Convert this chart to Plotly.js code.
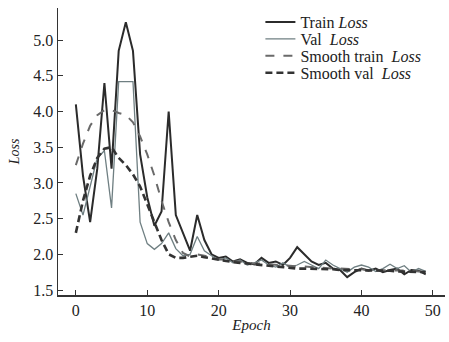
<!DOCTYPE html>
<html>
<head>
<meta charset="utf-8">
<script src="https://cdn.plot.ly/plotly-3.0.1.min.js"></script>
<style>html,body{margin:0;padding:0;background:#fff;}#chart{width:449px;height:342px;}</style>
</head>
<body>
<div id="chart"></div>
<script>
const epochs = Array.from({length: 50}, (_, i) => i);
const trainLoss = [4.1,3.1,2.45,3.2,4.4,3.2,4.85,5.25,4.85,3.4,2.8,2.4,2.6,4.0,2.55,2.3,2.05,2.55,2.2,2.0,
  1.95,1.97,1.9,1.93,1.88,1.86,1.95,1.88,1.9,1.85,1.95,2.1,2.0,1.9,1.85,1.88,1.8,1.78,1.68,1.75,
  1.8,1.77,1.8,1.75,1.78,1.8,1.72,1.78,1.77,1.72];
const valLoss = [2.85,2.55,2.95,3.35,3.45,2.65,4.42,4.42,4.42,2.45,2.15,2.07,2.15,2.3,2.08,1.98,2.0,2.25,2.05,1.98,
  1.92,1.95,1.88,1.92,1.85,1.88,1.92,1.85,1.82,1.88,1.82,1.85,1.9,1.85,1.8,1.92,1.85,1.8,1.75,1.82,
  1.85,1.82,1.76,1.8,1.86,1.8,1.84,1.75,1.8,1.76];
const smoothTrain = [3.25,3.55,3.8,3.95,4.02,4.02,3.98,3.95,3.85,3.65,3.4,3.1,2.75,2.45,2.2,2.02,1.97,2.0,1.98,1.95,
  1.93,1.92,1.9,1.9,1.88,1.87,1.87,1.86,1.85,1.85,1.84,1.83,1.83,1.82,1.82,1.81,1.8,1.8,1.8,1.79,
  1.79,1.78,1.78,1.78,1.78,1.77,1.77,1.77,1.76,1.76];
const smoothVal = [2.3,2.75,3.1,3.35,3.48,3.5,3.35,3.25,3.12,2.95,2.7,2.45,2.2,2.0,1.95,1.95,1.97,1.98,1.96,1.94,
  1.92,1.9,1.89,1.88,1.87,1.86,1.85,1.84,1.83,1.82,1.81,1.8,1.8,1.8,1.79,1.79,1.79,1.78,1.78,1.78,
  1.78,1.77,1.77,1.77,1.77,1.76,1.76,1.76,1.76,1.75];
const names = ['Train <i>Loss</i>', 'Val  <i>Loss</i>', 'Smooth train  <i>Loss</i>', 'Smooth val  <i>Loss</i>'];

const traces = [
  {x: epochs, y: trainLoss, name: names[0], mode: 'lines', legend: 'legend', line: {color: '#2b2b2b', width: 2}},
  {x: epochs, y: valLoss, name: names[1], mode: 'lines', legend: 'legend2', line: {color: '#6f7f82', width: 1.3}},
  {x: epochs, y: smoothTrain, name: names[2], mode: 'lines', legend: 'legend3', line: {color: '#6a6a6a', width: 2, dash: 'dash'}},
  {x: epochs, y: smoothVal, name: names[3], mode: 'lines', legend: 'legend4', line: {color: '#333333', width: 2.6, dash: '7px,4px'}}
];
const serif = 'Liberation Serif, Times New Roman, serif';
function leg(y) {
  return {x: 0.523, y: y, xanchor: 'left', yanchor: 'middle', bgcolor: 'rgba(0,0,0,0)',
    font: {family: serif, size: 16, color: '#222'}, itemwidth: 30};
}
const layout = {
  width: 449, height: 342,
  margin: {l: 58, r: 4, t: 8, b: 47},
  paper_bgcolor: '#fff', plot_bgcolor: '#fff',
  font: {family: serif, color: '#222', size: 15},
  showlegend: true,
  legend: leg(0.951), legend2: leg(0.892), legend3: leg(0.833), legend4: leg(0.774),
  xaxis: {range: [-2.5, 51.7], dtick: 10, tick0: 0, showgrid: false, zeroline: false,
    showline: true, linecolor: '#333', linewidth: 1.5, ticks: 'inside', ticklen: 5, tickcolor: '#333',
    tickfont: {family: serif, size: 16, color: '#222'},
    title: {text: '<i>Epoch</i>', font: {family: serif, size: 15, color: '#222'}, standoff: 2}},
  yaxis: {range: [1.43, 5.45], dtick: 0.5, tick0: 1.5, tickformat: '.1f', showgrid: false, zeroline: false,
    showline: true, linecolor: '#333', linewidth: 1.5, ticks: 'inside', ticklen: 5, tickcolor: '#333',
    tickfont: {family: serif, size: 16, color: '#222'},
    title: {text: '<i>Loss</i>', font: {family: serif, size: 14, color: '#222'}, standoff: 10}}
};
Plotly.newPlot('chart', traces, layout, {staticPlot: true, displayModeBar: false});
</script>
</body>
</html>
